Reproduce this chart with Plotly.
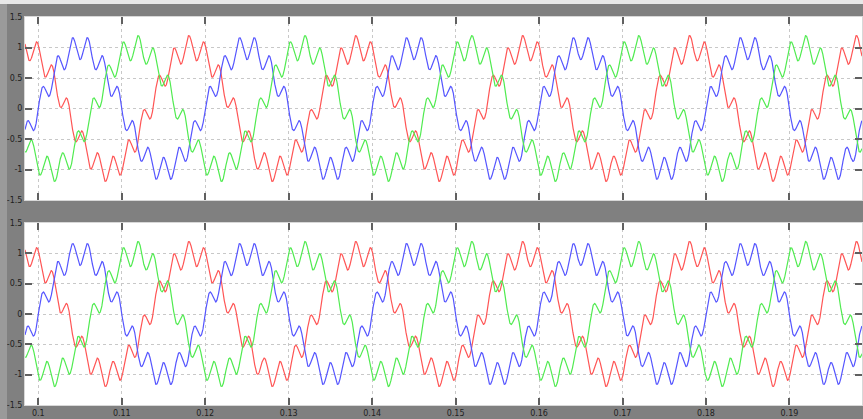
import numpy as np
import plotly.graph_objects as go
from plotly.subplots import make_subplots

# ---- data ----
fundamental_hz = 50.0          # one cycle = 0.02 s
harmonic_order = 11            # ripple: 11 bumps per cycle
fundamental_amp = 1.0
harmonic_amp = 0.2
phase_names = ["red", "blue", "green"]
phase_deg = [120.0, 0.0, -120.0]   # red leads blue, green lags blue
phase_colors = ["rgb(255,85,85)", "rgb(85,85,255)", "rgb(80,235,80)"]
t_start, t_end, n_samples = 0.0984, 0.1987, 6000
x_ticks = [0.1, 0.11, 0.12, 0.13, 0.14, 0.15, 0.16, 0.17, 0.18, 0.19]
x_tick_labels = ["0.1", "0.11", "0.12", "0.13", "0.14", "0.15", "0.16", "0.17", "0.18", "0.19"]
y_ticks = [-1.5, -1, -0.5, 0, 0.5, 1, 1.5]
y_tick_labels = ["-1.5", "-1", "-0.5", "0", "0.5", "1", "1.5"]

t = np.linspace(t_start, t_end, n_samples)
w = 2 * np.pi * fundamental_hz

fig = make_subplots(rows=2, cols=1, shared_xaxes=False, vertical_spacing=0.0)

for row in (1, 2):
    for name, ph, col in zip(phase_names, phase_deg, phase_colors):
        p = np.deg2rad(ph)
        y = fundamental_amp * np.sin(w * t + p) + harmonic_amp * np.sin(harmonic_order * w * t + p)
        fig.add_trace(go.Scatter(x=t, y=y, mode="lines", name=name,
                                 line=dict(color=col, width=1.2), showlegend=False),
                      row=row, col=1)

W, H = 863, 419
ml, mr, mt, mb = 25, 1, 17, 14
plot_h = H - mt - mb
top_lo = (405 - 200) / plot_h
bot_hi = (405 - 223) / plot_h

axis_common = dict(showgrid=True, gridcolor="#c8c8c8", griddash="dot", gridwidth=1,
                   zeroline=False, showline=True, linecolor="#d8d8d8", linewidth=1,
                   mirror="ticks", ticks="inside", ticklen=7, tickcolor="#606060",
                   tickwidth=1.5, tickfont=dict(family="DejaVu Sans", size=8, color="#202020"))

fig.update_layout(
    width=W, height=H,
    margin=dict(l=ml, r=mr, t=mt, b=mb),
    paper_bgcolor="#808080", plot_bgcolor="white",
    xaxis=dict(domain=[0, 1], range=[t_start, t_end], tickvals=x_ticks, ticktext=x_tick_labels,
               showticklabels=False, **axis_common),
    xaxis2=dict(domain=[0, 1], range=[t_start, t_end], tickvals=x_ticks, ticktext=x_tick_labels,
                showticklabels=True, **axis_common),
    yaxis=dict(domain=[top_lo, 1], range=[-1.5, 1.5], tickvals=y_ticks, ticktext=y_tick_labels,
               **axis_common),
    yaxis2=dict(domain=[0, bot_hi], range=[-1.5, 1.5], tickvals=y_ticks, ticktext=y_tick_labels,
                **axis_common),
)

pw = W - ml - mr
fig.add_shape(type="rect", xref="paper", yref="paper",
              x0=-ml / pw, x1=(7 - ml) / pw, y0=-mb / plot_h, y1=(H - mt) / plot_h + 0.05,
              fillcolor="#9a9a9a", line_width=0, layer="above")
fig.add_shape(type="rect", xref="paper", yref="paper",
              x0=-ml / pw, x1=1.01, y0=(405 - 4) / plot_h, y1=(405 + 1) / plot_h,
              fillcolor="#e8e8e8", line_width=0, layer="above")

fig.write_html("out.html", config={"displayModeBar": False},
               post_script="document.body.style.margin='0';document.body.style.padding='0';")
